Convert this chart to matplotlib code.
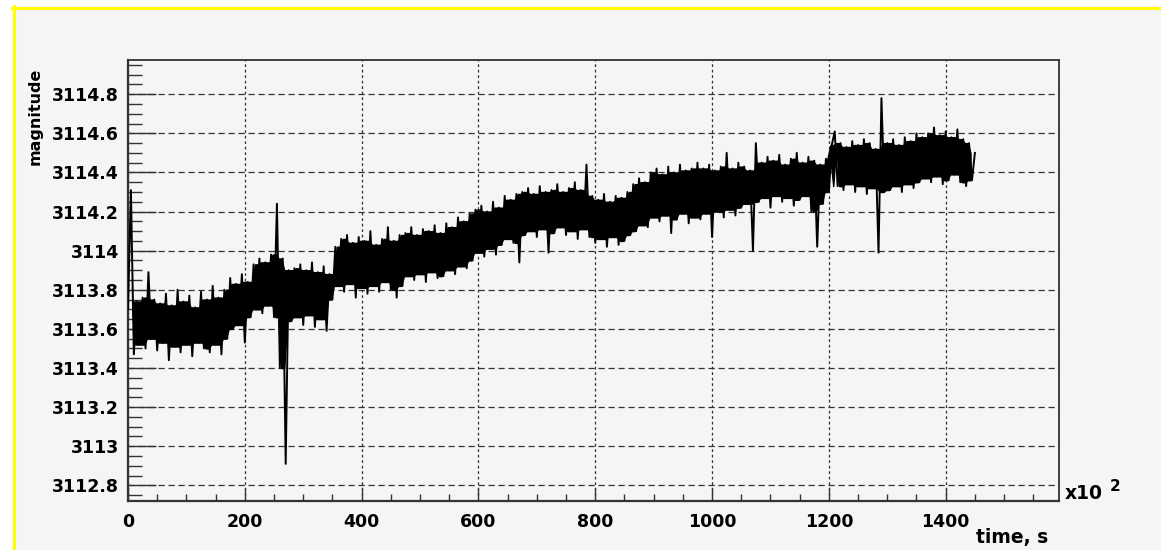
import numpy as np
import matplotlib
matplotlib.use('Agg')
from matplotlib import pyplot as plt
from matplotlib.ticker import MultipleLocator, FormatStrFormatter, FuncFormatter
from matplotlib.lines import Line2D
from matplotlib.patches import Rectangle
from numpy.lib.stride_tricks import sliding_window_view

# magnitude readings, one every 5 x10^2 s
magnitude = [
    3113.70, 3114.31, 3113.47, 3113.74, 3113.52, 3113.76, 3113.50, 3113.89, 3113.55, 3113.75,
    3113.49, 3113.73, 3113.53, 3113.78, 3113.44, 3113.72, 3113.51, 3113.80, 3113.48, 3113.74,
    3113.52, 3113.77, 3113.46, 3113.71, 3113.53, 3113.79, 3113.50, 3113.75, 3113.48, 3113.82,
    3113.52, 3113.76, 3113.47, 3113.80, 3113.55, 3113.86, 3113.60, 3113.83, 3113.62, 3113.88,
    3113.53, 3113.84, 3113.66, 3113.93, 3113.70, 3113.96, 3113.68, 3113.94, 3113.72, 3113.98,
    3113.66, 3114.24, 3113.40, 3113.96, 3112.91, 3113.90, 3113.64, 3113.91, 3113.66, 3113.93,
    3113.62, 3113.90, 3113.67, 3113.94, 3113.61, 3113.89, 3113.65, 3113.92, 3113.59, 3113.88,
    3113.75, 3114.02, 3113.82, 3114.06, 3113.79, 3114.08, 3113.83, 3114.04, 3113.76, 3114.07,
    3113.81, 3114.05, 3113.78, 3114.10, 3113.82, 3114.03, 3113.79, 3114.06, 3113.84, 3114.12,
    3113.80, 3114.05, 3113.76, 3114.08, 3113.82, 3114.09, 3113.87, 3114.12, 3113.85, 3114.08,
    3113.88, 3114.11, 3113.84, 3114.10, 3113.89, 3114.13, 3113.86, 3114.09, 3113.87, 3114.14,
    3113.90, 3114.12, 3113.88, 3114.17, 3113.92, 3114.15, 3113.91, 3114.19, 3113.95, 3114.21,
    3113.99, 3114.23, 3113.97, 3114.20, 3114.01, 3114.25, 3113.98, 3114.22, 3114.03, 3114.28,
    3114.06, 3114.26, 3114.04, 3114.29, 3113.94, 3114.30, 3114.08, 3114.32, 3114.10, 3114.29,
    3114.07, 3114.33, 3114.11, 3114.30, 3113.99, 3114.31, 3114.09, 3114.34, 3114.12, 3114.30,
    3114.08, 3114.32, 3114.10, 3114.35, 3114.06, 3114.31, 3114.11, 3114.44, 3114.07, 3114.28,
    3114.04, 3114.26, 3114.06, 3114.29, 3114.02, 3114.25, 3114.07, 3114.28, 3114.03, 3114.27,
    3114.05, 3114.30, 3114.08, 3114.34, 3114.10, 3114.37, 3114.13, 3114.35, 3114.12, 3114.40,
    3114.17, 3114.42, 3114.15, 3114.39, 3114.18, 3114.43, 3114.09, 3114.40, 3114.16, 3114.44,
    3114.19, 3114.41, 3114.14, 3114.42, 3114.17, 3114.45, 3114.16, 3114.42, 3114.19, 3114.44,
    3114.07, 3114.41, 3114.20, 3114.43, 3114.17, 3114.50, 3114.21, 3114.42, 3114.18, 3114.45,
    3114.22, 3114.43, 3114.24, 3114.41, 3114.00, 3114.55, 3114.25, 3114.45, 3114.27, 3114.48,
    3114.22, 3114.46, 3114.28, 3114.49, 3114.25, 3114.44, 3114.27, 3114.47, 3114.23, 3114.50,
    3114.26, 3114.45, 3114.28, 3114.48, 3114.20, 3114.46, 3114.02, 3114.44, 3114.24, 3114.47,
    3114.30, 3114.54, 3114.61, 3114.33, 3114.55, 3114.31, 3114.53, 3114.34, 3114.56, 3114.30,
    3114.54, 3114.33, 3114.57, 3114.29, 3114.55, 3114.32, 3114.52, 3113.99, 3114.78, 3114.30,
    3114.55, 3114.31, 3114.57, 3114.33, 3114.54, 3114.30, 3114.58, 3114.34, 3114.56, 3114.32,
    3114.60, 3114.35, 3114.58, 3114.37, 3114.60, 3114.35, 3114.63, 3114.38, 3114.59, 3114.34,
    3114.61, 3114.36, 3114.58, 3114.39, 3114.62, 3114.35, 3114.57, 3114.33, 3114.55, 3114.36,
    3114.50,
]
sample_step = 5  # x10^2 s
time = np.arange(len(magnitude)) * sample_step

bg = '#f5f5f5'
dark = '#333333'
W, H = 1161, 550

fig = plt.figure(figsize=(W / 100, H / 100), dpi=100, facecolor='white')

# canvas with the yellow frame on the left and top
fig.patches.append(Rectangle((12 / W, 0), 1 - 12 / W, (H - 6) / H,
                             transform=fig.transFigure, facecolor=bg,
                             edgecolor='none', zorder=-10))
fig.lines.append(Line2D([13.5 / W, 13.5 / W], [0, (H - 6) / H],
                        transform=fig.transFigure, color='#ffff00', lw=2.2, zorder=-5))
fig.lines.append(Line2D([12 / W, 1], [(H - 7.5) / H, (H - 7.5) / H],
                        transform=fig.transFigure, color='#ffff00', lw=2.2, zorder=-5))

ax = fig.add_axes([128 / W, 49 / H, 931 / W, 441 / H])
ax.set_zorder(1)
ax.set_facecolor(bg)

# the real signal is far denser than these samples: shade its core band
# (2nd lowest .. 2nd highest of every 4 neighbours) and draw the trace on top
mag = np.array(magnitude)
win = np.sort(sliding_window_view(mag, 4), axis=1)
win_t = time[:-3] + 1.5 * sample_step
ax.fill_between(win_t, win[:, 1], win[:, 2], color='black', lw=1.0,
                edgecolor='black', zorder=3)
ax.plot(time, magnitude, color='black', lw=1.4, zorder=3)

ax.set_xlim(0, 1594)
ax.set_ylim(3112.72, 3114.975)

ax.xaxis.set_major_locator(MultipleLocator(200))
ax.xaxis.set_minor_locator(MultipleLocator(50))
ax.yaxis.set_major_locator(MultipleLocator(0.2))
ax.yaxis.set_minor_locator(MultipleLocator(0.05))
ax.xaxis.set_major_formatter(FormatStrFormatter('%d'))
ax.yaxis.set_major_formatter(FuncFormatter(lambda v, p: f'{v:.1f}'.rstrip('0').rstrip('.')))

ax.tick_params(axis='y', which='major', direction='in', length=20, width=1, color=dark, pad=6.5)
ax.tick_params(axis='y', which='minor', direction='in', length=10, width=1, color=dark)
ax.tick_params(axis='x', which='major', direction='in', length=9.4, width=1, color=dark, pad=8.5)
ax.tick_params(axis='x', which='minor', direction='in', length=4.7, width=1, color=dark)

for lab in ax.get_xticklabels() + ax.get_yticklabels():
    lab.set_fontweight('bold')
    lab.set_fontsize(12.5)
    lab.set_fontfamily('DejaVu Sans')

ax.yaxis.grid(True, which='major', color=dark, lw=0.9, linestyle=(0, (5, 3)))
ax.xaxis.grid(True, which='major', color=dark, lw=0.9, linestyle=(0, (2.2, 2.2)))
ax.set_axisbelow(True)

for side in ['left', 'bottom']:
    ax.spines[side].set_linewidth(1.6)
    ax.spines[side].set_color(dark)
for side in ['top', 'right']:
    ax.spines[side].set_linewidth(1.3)
    ax.spines[side].set_color(dark)

fig.text(35 / W, (H - 68) / H, 'magnitude', rotation=90, ha='center', va='top',
         fontsize=11.5, fontweight='bold')
fig.text(1048 / W, 7 / H, 'time, s', ha='right', va='baseline',
         fontsize=13.5, fontweight='bold')
fig.text(1065 / W, 51 / H, 'x10', ha='left', va='baseline',
         fontsize=13.5, fontweight='bold')
fig.text(1110 / W, 59 / H, '2', ha='left', va='baseline',
         fontsize=11, fontweight='bold')

fig.savefig('out.png', dpi=100, facecolor=fig.get_facecolor())
